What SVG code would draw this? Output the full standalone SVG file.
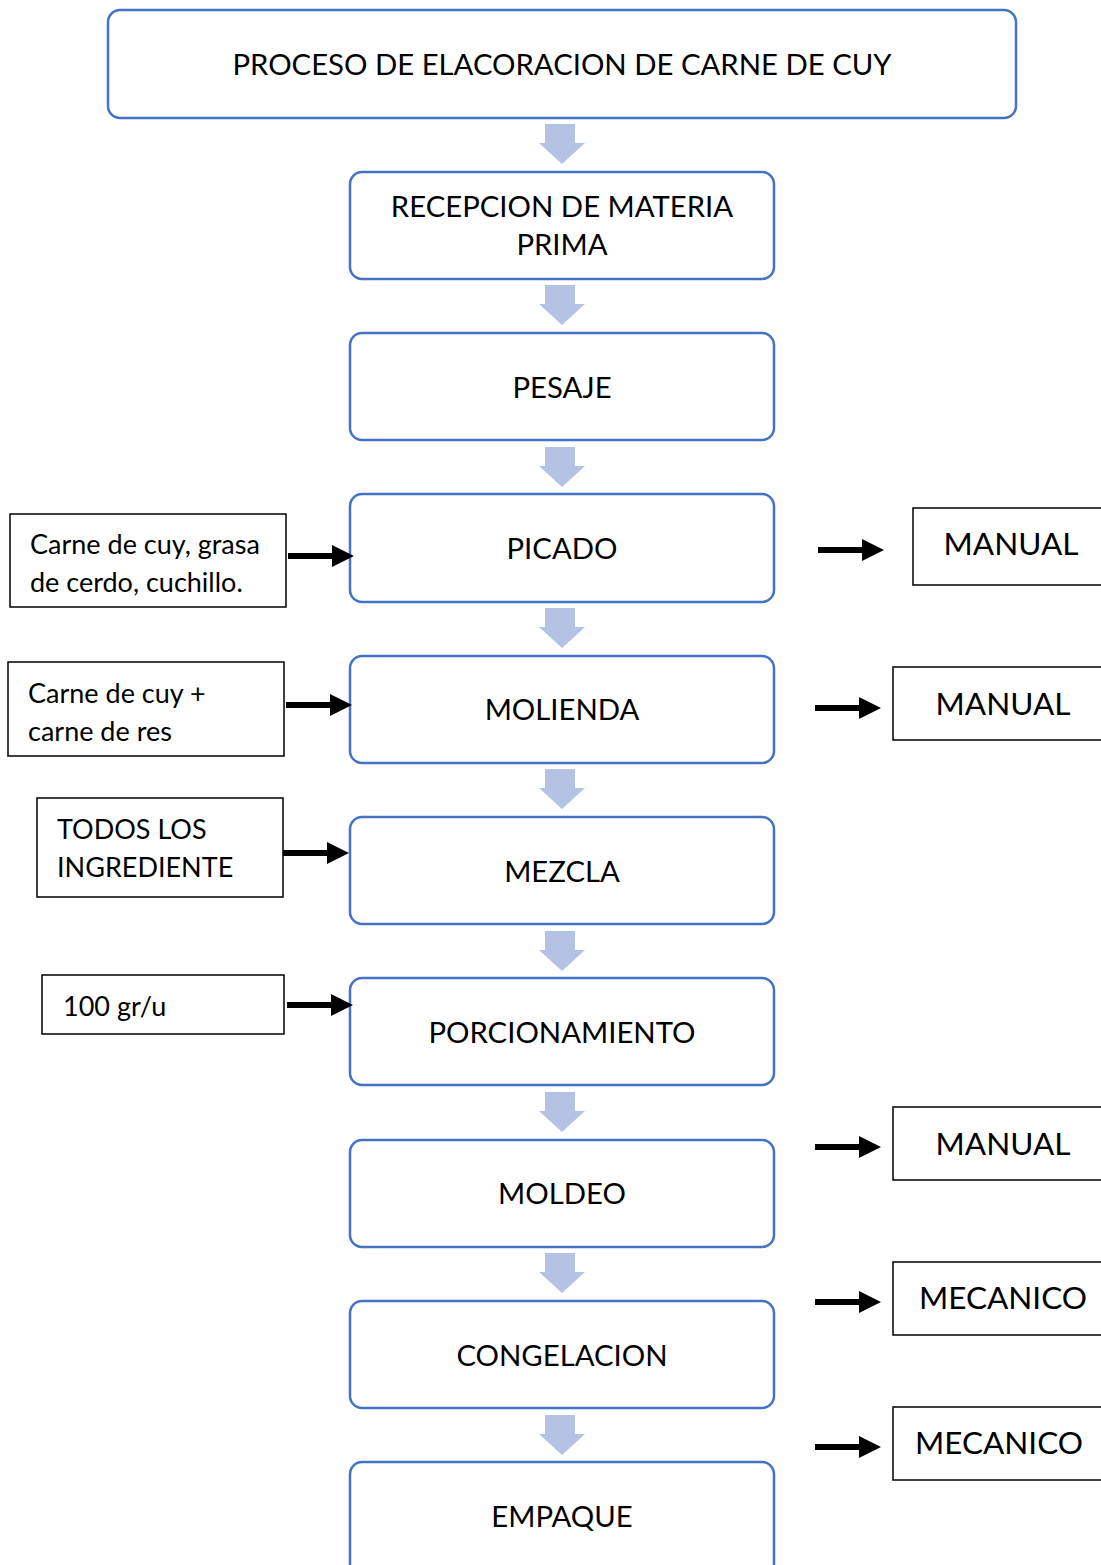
<svg xmlns="http://www.w3.org/2000/svg" width="1101" height="1565" viewBox="0 0 1101 1565">
<style>
.main{fill:#fff;stroke:#4472C4;stroke-width:2.5}
.side{fill:#fff;stroke:#000;stroke-width:1.5}
.t{font-family:Lato,"Open Sans","Liberation Sans",sans-serif;fill:#000;text-anchor:middle;dominant-baseline:central}
.m{font-size:29.3px}
.s{font-size:27px;text-anchor:start}
.r{font-size:31.5px}
.blk{fill:#B4C2E4}
.bl{fill:#000}
</style>
<defs>
<polygon id="down" points="-17,0 13,0 13,19 23,19 0,40 -23,19 -17,19" />
<path id="ra" d="M0,-3 L44,-3 L44,-11 L66,0 L44,11 L44,3 L0,3 Z"/>
</defs>
<rect width="1101" height="1565" fill="#fff"/>
<g id="title"><rect class="main" x="108" y="10" width="908" height="108" rx="12"/><text class="t m" x="562" y="63">PROCESO DE ELACORACION DE CARNE DE CUY</text></g>
<g id="n1"><rect class="main" x="350" y="172" width="424" height="107" rx="12"/><text class="t m" x="562" y="205">RECEPCION DE MATERIA</text><text class="t m" x="562" y="243">PRIMA</text></g>
<g id="n2"><rect class="main" x="350" y="333" width="424" height="107" rx="12"/><text class="t m" x="562" y="386">PESAJE</text></g>
<g id="n3"><rect class="main" x="350" y="494" width="424" height="108" rx="12"/><text class="t m" x="562" y="547">PICADO</text></g>
<g id="n4"><rect class="main" x="350" y="656" width="424" height="107" rx="12"/><text class="t m" x="562" y="708">MOLIENDA</text></g>
<g id="n5"><rect class="main" x="350" y="817" width="424" height="107" rx="12"/><text class="t m" x="562" y="870">MEZCLA</text></g>
<g id="n6"><rect class="main" x="350" y="978" width="424" height="107" rx="12"/><text class="t m" x="562" y="1031">PORCIONAMIENTO</text></g>
<g id="n7"><rect class="main" x="350" y="1140" width="424" height="107" rx="12"/><text class="t m" x="562" y="1192">MOLDEO</text></g>
<g id="n8"><rect class="main" x="350" y="1301" width="424" height="107" rx="12"/><text class="t m" x="562" y="1354">CONGELACION</text></g>
<g id="n9"><rect class="main" x="350" y="1462" width="424" height="120" rx="12"/><text class="t m" x="562" y="1515">EMPAQUE</text></g>
<g id="in1"><rect class="side" x="10" y="514" width="276" height="93"/><text class="t s" x="30" y="543">Carne de cuy, grasa</text><text class="t s" x="30" y="581">de cerdo, cuchillo.</text></g>
<g id="in2"><rect class="side" x="8" y="662" width="276" height="94"/><text class="t s" x="28" y="692">Carne de cuy +</text><text class="t s" x="28" y="730">carne de res</text></g>
<g id="in3"><rect class="side" x="37" y="798" width="246" height="99"/><text class="t s" x="57" y="828">TODOS LOS</text><text class="t s" x="57" y="866">INGREDIENTE</text></g>
<g id="in4"><rect class="side" x="42" y="975" width="242" height="59"/><text class="t s" x="63" y="1005">100 gr/u</text></g>
<g id="out1"><rect class="side" x="913" y="508" width="200" height="77"/><text class="t r" x="1011" y="543">MANUAL</text></g>
<g id="out2"><rect class="side" x="893" y="667" width="220" height="73"/><text class="t r" x="1003" y="703">MANUAL</text></g>
<g id="out3"><rect class="side" x="893" y="1107" width="220" height="73"/><text class="t r" x="1003" y="1143">MANUAL</text></g>
<g id="out4"><rect class="side" x="893" y="1262" width="220" height="73"/><text class="t r" x="1003" y="1297">MECANICO</text></g>
<g id="out5"><rect class="side" x="893" y="1407" width="220" height="73"/><text class="t r" x="999" y="1442">MECANICO</text></g>
<g id="connectors">
<g class="blk">
<use href="#down" x="562" y="124"/>
<use href="#down" x="562" y="285"/>
<use href="#down" x="562" y="447"/>
<use href="#down" x="562" y="608"/>
<use href="#down" x="562" y="769"/>
<use href="#down" x="562" y="931"/>
<use href="#down" x="562" y="1092"/>
<use href="#down" x="562" y="1253"/>
<use href="#down" x="562" y="1415"/>
</g>
<g class="bl">
<use href="#ra" x="288" y="556"/>
<use href="#ra" x="286" y="705"/>
<use href="#ra" x="283" y="853"/>
<use href="#ra" x="287" y="1005"/>
<use href="#ra" x="818" y="550"/>
<use href="#ra" x="815" y="708"/>
<use href="#ra" x="815" y="1147"/>
<use href="#ra" x="815" y="1302"/>
<use href="#ra" x="815" y="1447"/>
</g>
</g>
</svg>
